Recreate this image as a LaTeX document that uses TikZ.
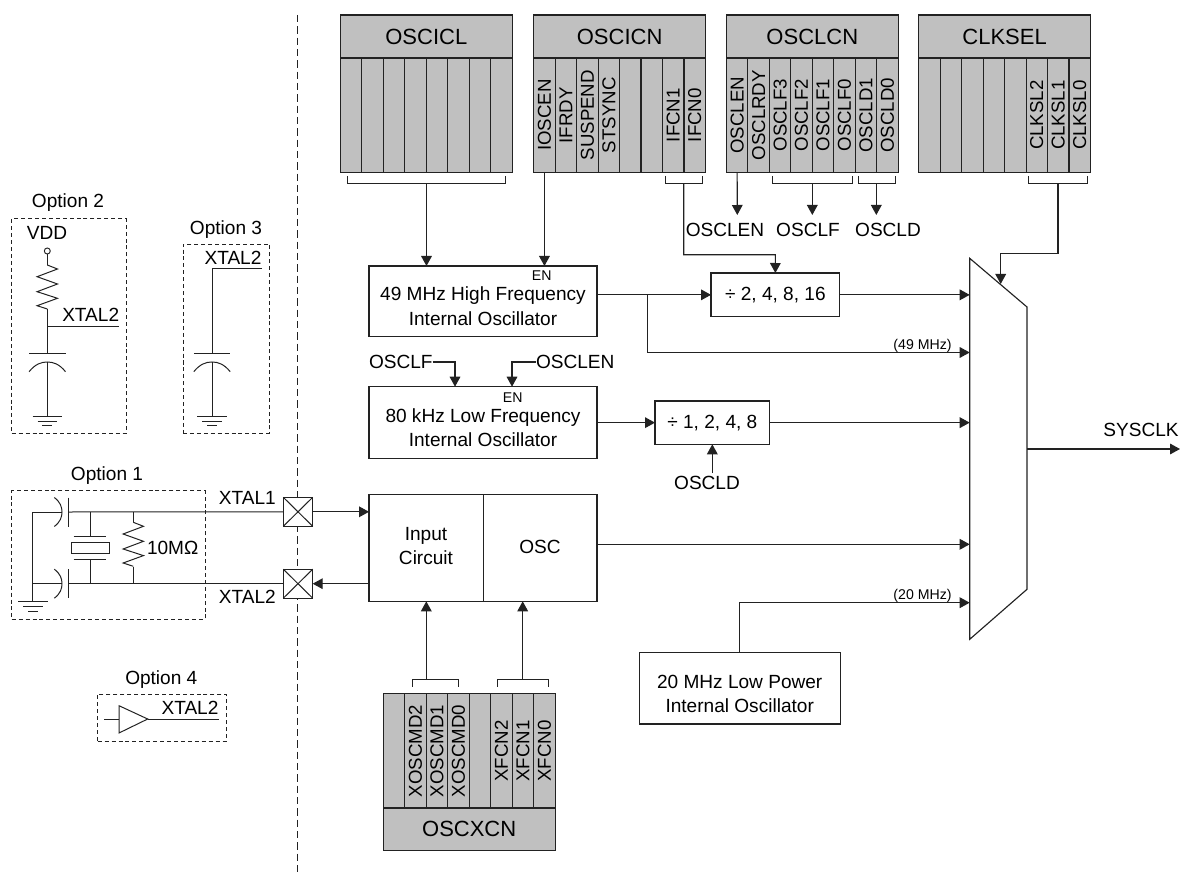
\documentclass[tikz,border=0pt]{standalone}
\usepackage{fontspec}
\setmainfont{Liberation Sans}
\usetikzlibrary{arrows.meta}
\definecolor{regfill}{HTML}{C0C0C0}
\definecolor{ink}{HTML}{222222}
\newcommand{\fsz}[1]{\fontsize{#1}{#1}\selectfont}
\tikzset{
  wire/.style={draw=ink,line width=0.85pt,line join=miter},
  thin wire/.style={draw=ink,line width=0.75pt},
  arr/.style={wire,-{Triangle[length=7.5pt,width=8pt]}},
  dash box/.style={draw=ink,line width=0.7pt,dash pattern=on 3pt off 2.2pt},
  sep line/.style={draw=ink,line width=0.65pt,dash pattern=on 5.5pt off 3pt},
  lbl/.style={inner sep=0pt,outer sep=0pt,font=\fsz{14.3}},
  big/.style={lbl,font=\fsz{16.5}},
  small/.style={lbl,font=\fsz{10.6}},
  box/.style={draw=ink,line width=0.8pt,fill=white,inner sep=0pt,outer sep=0pt,anchor=north west},
  hdr/.style={box,fill=regfill},
  cell/.style={draw=ink,line width=0.85pt,fill=regfill,inner sep=0pt,outer sep=0pt,rotate=90,font=\fsz{14},anchor=center},
}
% \bx name x1 y1 x2 y2 style
\newcommand{\bx}[6]{\node[#6,minimum width={(#4-#2)*0.75pt},minimum height={(#5-#3)*0.75pt}] (#1) at (#2,#3) {};}
% \reg name x ytop ybottom list
\newcommand{\reg}[5]{%
  \foreach \t [count=\i] in {#5} {
    \pgfmathsetmacro{\cx}{#2+(\i-0.5)*21.47}
    \pgfmathsetmacro{\cy}{(#3+#4)/2}
    \node[cell,minimum width={(#4-#3)*0.75pt},minimum height={21.47*0.75pt}] (#1-\i) at (\cx,\cy) {\t};
  }}
% \brk name x1 x2 ytip ybar
\newcommand{\brk}[5]{\coordinate (#1a) at (#2,#4); \coordinate (#1b) at (#3,#4);
  \draw[thin wire] (#1a) -- (#2,#5) -- (#3,#5) -- (#1b);}
% capacitor vertical: \vcap name x yplate
\newcommand{\vcap}[3]{
  \coordinate (#1p) at (#2,#3); \coordinate (#1c) at (#2,#3+9);
  \draw[thin wire] (#2-18.2,#3) -- (#2+18.2,#3);
  \draw[thin wire] (#2-18.2,#3+18.7) .. controls (#2-12,#3+11) and (#2-6,#3+9) .. (#1c) .. controls (#2+6,#3+9) and (#2+12,#3+11) .. (#2+18.2,#3+18.7);}
% ground: \gnd x y
\newcommand{\gnd}[2]{
  \draw[thin wire] (#1-14.7,#2) -- (#1+14.7,#2);
  \draw[thin wire] (#1-9.7,#2+5) -- (#1+9.7,#2+5);
  \draw[thin wire] (#1-5,#2+9.8) -- (#1+5,#2+9.8);}
% horizontal-axis capacitor: \hcap name xcurve y
\newcommand{\hcap}[3]{
  \draw[thin wire] (#2,#3-14.5) .. controls (#2+6,#3-10) and (#2+7.7,#3-5) .. (#2+7.7,#3) .. controls (#2+7.7,#3+5) and (#2+6,#3+10) .. (#2,#3+14.5);
  \draw[thin wire] (#2+14.4,#3-14.5) -- (#2+14.4,#3+14.5);}
% vertical zigzag resistor
\newcommand{\zig}[3]{% x ystart scale
  \draw[thin wire] (#1,#2) -- (#1+10.2,#2+#3*4) -- (#1-10.2,#2+#3*11.7) -- (#1+10.2,#2+#3*19) -- (#1-10.2,#2+#3*26.7) -- (#1+10.2,#2+#3*33.3) -- (#1-10.2,#2+#3*40.7) -- (#1,#2+#3*44);}
\begin{document}
\begin{tikzpicture}[x=0.75pt,y=-0.75pt]
\useasboundingbox (0,0) rectangle (1180,873);
% separator
\coordinate (sepT) at (297,15); \coordinate (sepB) at (297,873);
\draw[sep line] (sepT) -- (sepB);

% registers
\bx{oscicl}{340.4}{15}{512.2}{58}{hdr}
\bx{oscicn}{533.7}{15}{705.5}{58}{hdr}
\bx{osclcn}{726.4}{15}{898.2}{58}{hdr}
\bx{clksel}{918.7}{15}{1090.5}{58}{hdr}
\node[big] (tOSCICL) at (oscicl) {OSCICL};
\node[big] (tOSCICN) at (oscicn) {OSCICN};
\node[big] (tOSCLCN) at (osclcn) {OSCLCN};
\node[big] (tCLKSEL) at (clksel) {CLKSEL};
\reg{icl}{340.4}{58}{172.4}{,,,,,,,}
\reg{icn}{533.7}{58}{172.4}{IOSCEN,IFRDY,SUSPEND,STSYNC,,,IFCN1,IFCN0}
\reg{lcn}{726.4}{58}{172.4}{OSCLEN,OSCLRDY,OSCLF3,OSCLF2,OSCLF1,OSCLF0,OSCLD1,OSCLD0}
\reg{sel}{918.7}{58}{172.4}{,,,,,CLKSL2,CLKSL1,CLKSL0}
\reg{xcn}{383.3}{693.7}{808}{,XOSCMD2,XOSCMD1,XOSCMD0,,XFCN2,XFCN1,XFCN0}
\bx{oscxcn}{383.3}{808}{555.1}{850.7}{hdr}
\node[big] (tOSCXCN) at (oscxcn) {OSCXCN};

% blocks
\bx{hf}{369}{266}{597}{336.7}{box}
\node[small] (enHF) at (541.7,275.7) {EN};
\node[lbl] (hf1) at (483,295.7) {49 MHz High Frequency};
\node[lbl] (hf2) at (483,318.3) {Internal Oscillator};
\bx{lf}{369}{386.7}{597}{458.3}{box}
\node[small] (enLF) at (512.7,397.7) {EN};
\node[lbl] (lf1) at (483,418) {80 kHz Low Frequency};
\node[lbl] (lf2) at (483,440) {Internal Oscillator};
\bx{divA}{711}{273}{839.7}{316.7}{box}
\node[lbl] (tDivA) at (divA) {÷ 2, 4, 8, 16};
\bx{divB}{655}{401}{769.7}{444.3}{box}
\node[lbl] (tDivB) at (divB) {÷ 1, 2, 4, 8};
\bx{inc}{369}{494.3}{483.7}{601.3}{box}
\node[lbl] (inc1) at (426,535.7) {Input};
\node[lbl] (inc2) at (426,558) {Circuit};
\bx{osc}{483.7}{494.3}{597}{601.3}{box}
\node[lbl] (tOSC) at (540,547) {OSC};
\bx{lp}{639.3}{652.7}{840.3}{724}{box}
\node[lbl] (lp1) at (739.7,682) {20 MHz Low Power};
\node[lbl] (lp2) at (739.7,705.7) {Internal Oscillator};

% mux
\coordinate (muxA) at (969.7,258.3);
\coordinate (muxB) at (1027,307);
\coordinate (muxC) at (1027,589.3);
\coordinate (muxD) at (969.7,639.3);
\draw[wire,fill=white] (muxA) -- (muxB) -- (muxC) -- (muxD) -- cycle;
\coordinate (muxTop) at (1000.7,284);

% brackets and top connectors
\brk{bIcl}{347.3}{505.3}{176}{183.3}
\coordinate (sIcl) at (426.5,183.3);
\draw[arr] (sIcl) -- (sIcl |- hf.north);
\draw[arr] (icn-1.west) -- (icn-1.west |- hf.north);
\brk{bIfc}{665.7}{702}{176}{183.3}
\coordinate (sIfc) at (683.7,183.3);
\coordinate (kIfc) at (683.7,254.7);
\coordinate (tDiv) at (775.4,254.7);
\draw[arr] (sIfc) -- (kIfc) -- (tDiv) -- (divA.north);
\coordinate (eLen) at (737.3,215);
\draw[arr] (lcn-1.west) -- (eLen);
\brk{bLf}{772.7}{852}{176}{183.3}
\coordinate (sLf) at (812.3,183.3); \coordinate (eLf) at (812.3,215);
\draw[arr] (sLf) -- (eLf);
\brk{bLd}{858.3}{895}{176}{183.3}
\coordinate (sLd) at (876.3,183.3); \coordinate (eLd) at (876.3,215);
\draw[arr] (sLd) -- (eLd);
\node[lbl] (tLen) at (725,230) {OSCLEN};
\node[lbl] (tLf) at (808,230) {OSCLF};
\node[lbl] (tLd) at (888,230) {OSCLD};
\brk{bSel}{1028.3}{1087.7}{176}{183.3}
\coordinate (sSel) at (1058,183.3); \coordinate (kSel) at (1058,253.7); \coordinate (jSel) at (1000.7,253.7);
\draw[arr] (sSel) -- (kSel) -- (jSel) -- (muxTop);

% HF outputs
\coordinate (hfOut) at (hf.east |- divA.west);
\draw[arr] (hfOut) -- (divA.west);
\coordinate (br) at (647.7,294.85);
\coordinate (in49) at (969.7,352.5);
\draw[arr] (br) |- (in49);
\node[small] (t49) at (922.5,345.5) {(49 MHz)};
\draw[arr] (divA.east) -- (divA.east -| muxA);

% LF
\node[lbl,anchor=west] (tOf) at (369,362) {OSCLF};
\node[lbl,anchor=west] (tOe) at (536,362) {OSCLEN};
\coordinate (kOf) at (455,362); \coordinate (kOe) at (512,362);
\draw[arr] (tOf.east) -- (kOf) -- (kOf |- lf.north);
\draw[arr] (tOe.west) -- (kOe) -- (kOe |- lf.north);
\draw[arr] (lf.east |- divB.west) -- (divB.west);
\draw[arr] (divB.east) -- (divB.east -| muxA);
\node[lbl] (tOd) at (707,483) {OSCLD};
\coordinate (sOd) at (712.3,473);
\draw[arr] (sOd) -- (sOd |- divB.south);

% external osc
\coordinate (oscOut) at (597,544.3);
\draw[arr] (oscOut) -- (oscOut -| muxA);
\coordinate (lpK) at (lp.north |- 0,602.7);
\draw[arr] (lp.north) -- (lpK) -- (lpK -| muxA);
\node[small] (t20) at (922.5,595.7) {(20 MHz)};
\coordinate (mOut) at (1027,449); \coordinate (sysEnd) at (1180,449);
\draw[arr] (mOut) -- (sysEnd);
\node[lbl] (tSys) at (1141,430) {SYSCLK};

% OSCXCN brackets
\brk{bXm}{412}{458.7}{686.7}{679}
\brk{bXf}{497.7}{548}{686.7}{679}
\coordinate (sXm) at (426.3,679); \coordinate (sXf) at (522.7,679);
\draw[arr] (sXm) -- (sXm |- inc.south);
\draw[arr] (sXf) -- (sXf |- osc.south);

% pads
\node[box,anchor=center,minimum width={29.4*0.75pt},minimum height={29*0.75pt}] (p1) at (298,511.8) {};
\node[box,anchor=center,minimum width={29.4*0.75pt},minimum height={29*0.75pt}] (p2) at (298,583.7) {};
\foreach \p in {p1,p2}{
  \draw[thin wire] (\p.north west) -- (\p.south east);
  \draw[thin wire] (\p.north east) -- (\p.south west);}
\draw[arr] (p1.east) -- (p1.east -| inc.west);
\draw[arr] (p2.east -| inc.west) -- (p2.east);
\node[lbl] (tX1) at (247.3,497.7) {XTAL1};
\node[lbl] (tX2) at (247.3,596.7) {XTAL2};

% Option 2
\node[lbl] (tOp2) at (68,203) {Option 2};
\bx{op2}{11.7}{218.7}{126}{433.3}{dash box,anchor=north west,inner sep=0pt,outer sep=0pt}
\node[lbl] (tVdd) at (47,232.7) {VDD};
\node[circle,draw=ink,line width=0.7pt,fill=white,minimum size={6*0.75pt},inner sep=0pt,outer sep=0pt] (vdd) at (47.3,251) {};
\coordinate (zT) at (47.3,265); \coordinate (zB) at (47.3,309);
\draw[thin wire] (vdd.south) -- (zT);
\zig{47.3}{265}{1}
\vcap{c2}{47.3}{353}
\draw[thin wire] (zB) -- (c2p);
\coordinate (j2) at (47.3,326); \coordinate (x2) at (119,326);
\draw[thin wire] (j2) -- (x2);
\node[lbl] (tXo2) at (90.7,315) {XTAL2};
\coordinate (g2) at (47.3,416);
\draw[thin wire] (c2c) -- (g2);
\gnd{47.3}{416}

% Option 3
\node[lbl] (tOp3) at (226,229.3) {Option 3};
\bx{op3}{183}{244}{269.3}{433.3}{dash box,anchor=north west,inner sep=0pt,outer sep=0pt}
\node[lbl] (tXo3) at (233,258) {XTAL2};
\vcap{c3}{212}{353}
\coordinate (x3) at (262,269); \coordinate (k3) at (212,269); \coordinate (g3) at (212,416);
\draw[thin wire] (x3) -- (k3) -- (c3p);
\draw[thin wire] (c3c) -- (g3);
\gnd{212}{416}

% Option 1
\node[lbl] (tOp1) at (107,475.7) {Option 1};
\bx{op1}{11.7}{490.7}{205}{619.3}{dash box,anchor=north west,inner sep=0pt,outer sep=0pt}
\coordinate (a1) at (32.7,512); \coordinate (a2) at (32.7,583.7); \coordinate (gA) at (32.7,601.7);
\coordinate (cA) at (62,512); \coordinate (cB) at (62,583.7);
\coordinate (pA) at (68.7,512); \coordinate (pB) at (68.7,583.7);
\draw[thin wire] (cA) -- (a1) -- (gA);
\draw[thin wire] (a2) -- (cB);
\gnd{33}{601.7}
\hcap{ca}{54.3}{512}
\hcap{cb}{54.3}{583.7}
\draw[thin wire] (pA) -- (p1.west);
\draw[thin wire] (pB) -- (p2.west);
% crystal
\node[draw=ink,line width=0.75pt,fill=white,inner sep=0pt,outer sep=0pt,minimum width={38*0.75pt},minimum height={11*0.75pt}] (xtal) at (90.3,548.2) {};
\coordinate (xa) at (90.3,512); \coordinate (xb) at (90.3,536.3); \coordinate (xc) at (90.3,559.5); \coordinate (xd) at (90.3,583.7);
\draw[thin wire] (xa) -- (xb); \draw[thin wire] (xc) -- (xd);
\draw[thin wire] (73.7,536.3) -- (106,536.3);
\draw[thin wire] (73.7,559.5) -- (106,559.5);
% 10M resistor
\coordinate (ra) at (133.3,512); \coordinate (rb) at (133.3,522.3); \coordinate (rc) at (133.3,566.7); \coordinate (rd) at (133.3,583.7);
\draw[thin wire] (ra) -- (rb); \draw[thin wire] (rc) -- (rd);
\zig{133.3}{522.3}{1}
\node[lbl] (t10M) at (172.7,548.3) {10MΩ};

% Option 4
\node[lbl] (tOp4) at (161.3,679.3) {Option 4};
\bx{op4}{97.7}{694.3}{226.3}{741}{dash box,anchor=north west,inner sep=0pt,outer sep=0pt}
\coordinate (b0) at (104.3,719); \coordinate (b1) at (119,719); \coordinate (b2) at (147.7,719); \coordinate (b3) at (219.3,719);
\draw[thin wire] (b0) -- (b1);
\draw[thin wire] (119,705.7) -- (b2) -- (119,733) -- cycle;
\draw[thin wire] (b2) -- (b3);
\node[lbl] (tXo4) at (190,708) {XTAL2};
\end{tikzpicture}
\end{document}
